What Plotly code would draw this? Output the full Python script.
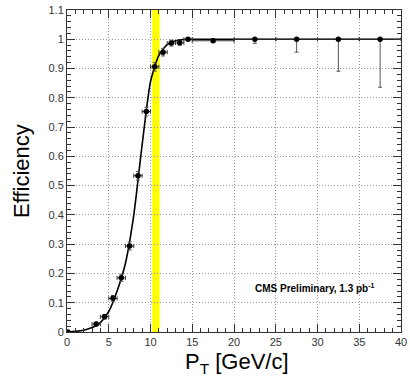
import plotly.graph_objects as go

# measured efficiency points
pt = [0.1, 3.5, 4.5, 5.5, 6.5, 7.5, 8.5, 9.5, 10.5, 11.5, 12.5, 13.5, 14.5, 17.5, 22.5, 27.5, 32.5, 37.5]
eff = [0.0, 0.027, 0.052, 0.115, 0.185, 0.294, 0.534, 0.753, 0.906, 0.956, 0.987, 0.988, 1.0, 0.995, 1.0, 1.0, 1.0, 1.0]
pt_err = [0.0, 0.5, 0.5, 0.5, 0.5, 0.5, 0.5, 0.5, 0.5, 0.5, 0.5, 0.5, 0.5, 2.5, 2.5, 2.5, 2.5, 2.5]
eff_err_up = [0.0, 0.006, 0.008, 0.01, 0.012, 0.014, 0.015, 0.015, 0.015, 0.013, 0.01, 0.008, 0.0, 0.004, 0.0, 0.0, 0.0, 0.0]
eff_err_dn = [0.0, 0.006, 0.008, 0.01, 0.012, 0.014, 0.015, 0.015, 0.015, 0.013, 0.01, 0.008, 0.004, 0.004, 0.014, 0.044, 0.109, 0.164]

# fitted curve
fit_x = [0, 1, 2, 3, 3.5, 4, 5, 6, 7, 8, 9, 10, 11, 12, 13, 14, 15, 40]
fit_y = [0.0, 0.002, 0.006, 0.015, 0.022, 0.032, 0.07, 0.14, 0.235, 0.40, 0.64, 0.855, 0.945, 0.982, 0.995, 0.999, 1.0, 1.0]

# threshold band
band = [10.2, 11.1]

fig = go.Figure()

fig.add_shape(type="rect", xref="x", yref="y", x0=band[0], x1=band[1], y0=0, y1=1.1,
              fillcolor="#ffff00", line_width=0, layer="below")

fig.add_trace(go.Scatter(x=fit_x, y=fit_y, mode="lines", line=dict(color="black", width=1.6, shape="spline", smoothing=0.6),
                         hoverinfo="skip", showlegend=False))

fig.add_trace(go.Scatter(
    x=pt, y=eff, mode="markers",
    marker=dict(color="black", size=5.5),
    error_x=dict(type="data", array=pt_err, color="#333333", thickness=1, width=2),
    error_y=dict(type="data", array=eff_err_up, arrayminus=eff_err_dn, symmetric=False, color="#555555", thickness=1, width=2),
    showlegend=False))

axis_font = dict(family="Liberation Sans, Arial, sans-serif", size=11, color="#333333")

fig.update_layout(
    width=410, height=377,
    margin=dict(l=67, r=9, t=10, b=45, autoexpand=False),
    paper_bgcolor="white", plot_bgcolor="white",
    font=axis_font,
    xaxis=dict(range=[0, 40], dtick=5, tick0=0, ticks="inside", ticklen=8, tickcolor="#333333",
               showline=True, linecolor="#333333", linewidth=1, mirror="allticks",
               showgrid=True, gridcolor="#999999", griddash="1px,2px", gridwidth=1,
               zeroline=False, tickfont=axis_font,
               minor=dict(dtick=1, ticks="inside", ticklen=4, tickcolor="#333333", showgrid=False)),
    yaxis=dict(range=[0, 1.1], dtick=0.1, tick0=0, ticks="inside", ticklen=8, tickcolor="#333333",
               showline=True, linecolor="#333333", linewidth=1, mirror="allticks",
               showgrid=True, gridcolor="#999999", griddash="1px,2px", gridwidth=1,
               zeroline=False, tickfont=axis_font, tickformat="~g",
               minor=dict(dtick=0.02, ticks="inside", ticklen=4, tickcolor="#333333", showgrid=False)),
)

fig.add_annotation(text="Efficiency", xref="paper", yref="paper", x=-0.138, y=0.5, textangle=-90,
                   showarrow=False, font=dict(family="Liberation Sans, Arial, sans-serif", size=22, color="black"),
                   xanchor="center", yanchor="middle")
fig.add_annotation(text="P<sub>T</sub> [GeV/c]", xref="paper", yref="paper", x=0.51, y=-0.095,
                   showarrow=False, font=dict(family="Liberation Sans, Arial, sans-serif", size=22, color="black"),
                   xanchor="center", yanchor="middle")
fig.add_annotation(text="<b>CMS Preliminary, 1.3 pb<sup>-1</sup></b>", xref="x", yref="y", x=37.1, y=0.15,
                   showarrow=False, font=dict(family="Liberation Sans, Arial, sans-serif", size=10, color="black"),
                   xanchor="right", yanchor="middle")

fig.write_html("out.html", config={"displayModeBar": False},
               post_script="document.body.style.margin='0';")
